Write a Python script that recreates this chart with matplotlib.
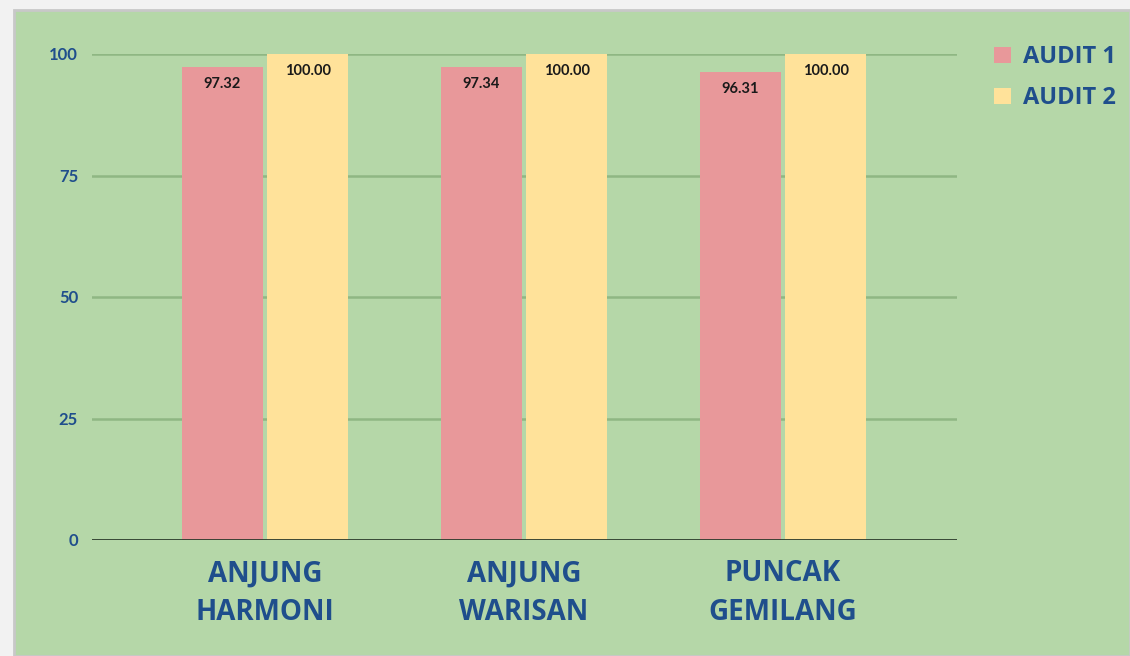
import numpy as np
import matplotlib
matplotlib.use("Agg")
import matplotlib.pyplot as plt
from matplotlib.patches import Rectangle

kategori = ["ANJUNG\nHARMONI", "ANJUNG\nWARISAN", "PUNCAK\nGEMILANG"]
audit1 = [97.32, 97.34, 96.31]
audit2 = [100.00, 100.00, 100.00]
siri = ["AUDIT 1", "AUDIT 2"]
yticks = [0, 25, 50, 75, 100]

hijau = "#b5d7a8"
merah = "#e8989a"
kuning = "#ffe29a"
biru = "#1f4e8c"

plt.rcParams["font.family"] = ["Lato", "DejaVu Sans"]
huruf_besar = ["Open Sans", "DejaVu Sans"]

fig = plt.figure(figsize=(11.3, 6.56), dpi=100, facecolor="#f2f2f2")
# panel hijau belakang
fig.patches.append(Rectangle((14 / 1130, 0), 1 - 14 / 1130, 1 - 10 / 656,
                             transform=fig.transFigure, facecolor=hijau,
                             edgecolor="#c8c8c8", linewidth=2, zorder=-10))

ax = fig.add_axes([92 / 1130, 1 - 540 / 656, 865 / 1130, 486 / 656])
ax.set_facecolor("none")

x = np.arange(len(kategori))
w = 0.313
gap = 0.008
b1 = ax.bar(x - w / 2 - gap, audit1, w, color=merah, label=siri[0], zorder=3)
b2 = ax.bar(x + w / 2 + gap, audit2, w, color=kuning, label=siri[1], zorder=3)

for bars in (b1, b2):
    for b in bars:
        ax.annotate(f"{b.get_height():.2f}", (b.get_x() + b.get_width() / 2, b.get_height()),
                    xytext=(0, -12.5), textcoords="offset points", ha="center", va="center",
                    fontsize=10.5, fontweight="bold", color="#1a1a1a", zorder=4)

ax.set_xlim(-0.668, 2.672)
ax.set_ylim(0, 100)
ax.set_yticks(yticks)
ax.set_yticklabels([str(t) for t in yticks], fontsize=12, fontweight="bold", color=biru)
ax.set_xticks(x)
ax.set_xticklabels(kategori, fontsize=20, fontweight="bold", color=biru,
                   linespacing=1.42, family=huruf_besar)
ax.tick_params(axis="both", length=0)
ax.tick_params(axis="y", pad=10)
ax.tick_params(axis="x", pad=14)

for t in yticks[1:]:
    ax.axhline(t, color="#8fb783", linewidth=1.8, zorder=1)
ax.axhline(0, color="#2b3a2b", linewidth=2, zorder=5)

for s in ax.spines.values():
    s.set_visible(False)

fig.legend(handles=[b1, b2], labels=siri, loc="upper left",
           bbox_to_anchor=(973 / 1130, 1 - 24 / 656), frameon=False,
           prop={"size": 17, "weight": "bold", "family": huruf_besar}, labelcolor=biru,
           handlelength=0.7, handleheight=0.7, handletextpad=0.5, labelspacing=0.72)

fig.savefig("out.png", dpi=100, facecolor=fig.get_facecolor())
